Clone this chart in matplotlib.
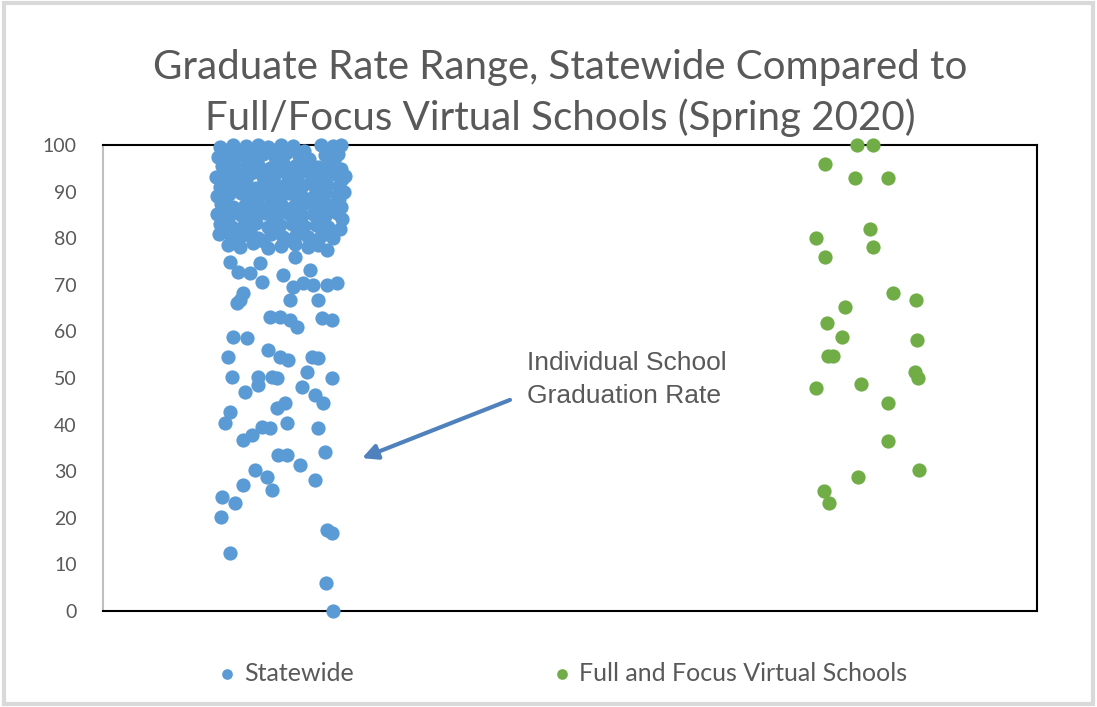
import matplotlib.pyplot as plt
from matplotlib.patches import Rectangle

plt.rcParams['font.family'] = ['Lato', 'DejaVu Sans']

# Statewide schools: x is only a jitter position, y is graduation rate (%)
statewide_x = [
    # dense cluster near the top
    117, 130, 143, 155, 165, 178, 190, 218, 230, 238,
    115, 126, 137, 150, 160, 172, 183, 196, 206, 222, 235,
    119, 130, 142, 155, 167, 180, 192, 203, 215, 226, 238,
    113, 124, 136, 148, 160, 172, 185, 197, 209, 220, 232, 242,
    117, 129, 141, 153, 165, 177, 189, 200, 212, 224, 236,
    114, 126, 138, 150, 162, 174, 186, 198, 210, 222, 234, 241,
    118, 130, 142, 154, 166, 178, 190, 202, 214, 226, 238,
    114, 126, 138, 150, 162, 174, 186, 198, 210, 222, 234,
    117, 129, 141, 153, 165, 177, 189, 201, 213, 225, 237,
    116, 128, 140, 155, 168, 180, 193, 205, 218, 230,
    125, 137, 150, 165, 178, 192, 205, 215,
    # in-between schools of the cluster
    123, 148, 171, 201, 226,
    121, 146, 174, 199, 231,
    130, 154, 179, 204, 228,
    120, 143, 168, 192, 216, 239,
    124, 147, 171, 195, 219,
    121, 145, 170, 194, 218, 236,
    125, 149, 173, 197, 221,
    122, 146, 170, 194, 218, 239,
    123, 147, 172, 196, 224,
    134, 160, 186, 211,
    # spread-out schools
    127, 135, 147, 157, 159, 180, 192, 207, 224, 190, 200, 210, 224, 234,
    187, 215, 140, 134, 137, 167, 177, 187, 194, 219, 229, 130, 144,
    125, 165, 177, 185, 209, 215, 129, 155, 155, 169, 174, 204, 229,
    142, 199, 212, 220, 127, 122, 174, 182, 184, 215, 140, 149, 159, 167,
    175, 184, 222, 197, 152, 164, 212, 140, 169, 119, 132, 118, 224, 229,
    127, 223, 230,
]
statewide_y = [
    99.6, 100, 99.8, 100, 99.5, 100, 99.7, 100, 99.8, 100,
    97.5, 98.2, 97.8, 97.0, 98.0, 97.4, 98.3, 97.6, 97.1, 97.9, 98.1,
    95.5, 96.0, 95.2, 95.8, 95.0, 96.1, 95.4, 95.9, 95.3, 95.7, 94.9,
    93.2, 93.9, 93.5, 94.0, 93.1, 93.7, 93.4, 94.1, 92.9, 93.6, 93.8, 93.3,
    91.0, 91.7, 91.3, 90.8, 91.6, 91.1, 91.9, 91.4, 90.9, 91.5, 91.2,
    89.0, 89.5, 89.8, 88.9, 89.4, 89.1, 89.7, 89.2, 88.8, 89.6, 89.3, 90.0,
    87.4, 86.8, 87.2, 87.6, 86.9, 87.3, 86.7, 87.5, 87.0, 87.1, 86.6,
    85.2, 84.7, 85.0, 84.5, 85.4, 84.9, 85.1, 84.6, 85.3, 84.8, 85.5,
    83.0, 82.5, 82.9, 83.2, 82.4, 82.8, 83.1, 82.6, 82.9, 82.3, 82.0,
    80.9, 80.4, 80.6, 80.1, 80.8, 80.3, 80.7, 80.2, 80.5, 80.0,
    78.6, 78.2, 78.9, 78.0, 78.4, 78.8, 78.1, 78.5,
    98.9, 98.7, 99.0, 98.8, 98.6,
    96.8, 96.6, 96.9, 96.5, 96.7,
    94.7, 94.5, 94.8, 94.4, 94.6,
    92.5, 92.3, 92.6, 92.2, 92.4, 92.7,
    90.3, 90.1, 90.4, 90.0, 90.2,
    88.2, 88.0, 88.3, 87.9, 88.1, 88.4,
    86.0, 85.8, 86.1, 85.7, 85.9,
    83.9, 83.7, 84.0, 83.6, 83.8, 84.1,
    81.8, 81.6, 81.9, 81.5, 81.7,
    79.6, 79.4, 79.7, 79.3,
    74.9, 72.7, 72.5, 74.7, 70.6, 72.1, 76.0, 73.2, 77.5, 69.5, 70.4, 70.0, 70.0, 70.4,
    66.7, 66.7, 68.2, 66.1, 66.7, 63.1, 63.1, 62.4, 60.9, 62.9, 62.4, 58.8, 58.6,
    54.5, 56.0, 54.5, 53.9, 54.5, 54.3, 50.2, 50.2, 48.5, 50.2, 50.0, 51.3, 50.0,
    47.0, 48.1, 46.4, 44.6, 42.7, 40.3, 43.6, 44.6, 40.3, 39.3, 36.7, 37.8, 39.5, 39.3,
    33.5, 33.5, 34.1, 31.3, 30.3, 28.8, 28.1, 27.0, 26.0, 24.4, 23.2, 20.2, 17.4, 16.7,
    12.4, 6.0, 0.0,
]

# Full and focus virtual schools
virtual_x = [754, 770, 722, 752, 785, 713, 767, 770, 722, 790, 813, 742, 724, 739,
             814, 725, 730, 812, 815, 713, 758, 785, 785, 816, 755, 721, 726]
virtual_y = [100, 100, 95.9, 92.9, 92.9, 80.0, 82.0, 78.1, 76.0, 68.2, 66.7, 65.2, 61.8, 58.8,
             58.2, 54.7, 54.7, 51.3, 50.0, 47.9, 48.7, 44.6, 36.5, 30.3, 28.8, 25.8, 23.2]

blue = '#5b9bd5'
green = '#70ad47'
grey_txt = '#595959'

fig = plt.figure(figsize=(10.97, 7.07), dpi=100)
fig.patches.append(Rectangle((0.004, 0.004), 0.992, 0.992, transform=fig.transFigure,
                             fill=False, edgecolor='#d9d9d9', linewidth=3))
ax = fig.add_axes([0.0939, 0.1358, 0.8514, 0.6591])

ax.scatter(statewide_x, statewide_y, s=105, color=blue, linewidths=0, clip_on=False,
           label='Statewide', zorder=3)
ax.scatter(virtual_x, virtual_y, s=105, color=green, linewidths=0, clip_on=False,
           label='Full and Focus Virtual Schools', zorder=3)

ax.set_xlim(0, 934)
ax.set_ylim(0, 100)
ax.set_yticks(range(0, 101, 10))
ax.set_xticks([])
ax.tick_params(axis='y', length=0, labelsize=14, labelcolor=grey_txt, pad=19)
for s in ['top', 'right', 'bottom']:
    ax.spines[s].set_color('black')
    ax.spines[s].set_linewidth(1.5)
ax.spines['left'].set_color('#bfbfbf')
ax.spines['left'].set_linewidth(1.5)

fig.text(0.511, 0.905, 'Graduate Rate Range, Statewide Compared to', ha='center', va='center',
         fontsize=29, color=grey_txt)
fig.text(0.511, 0.833, 'Full/Focus Virtual Schools (Spring 2020)', ha='center', va='center',
         fontsize=29, color=grey_txt)

ax.annotate('', xy=(259, 32.8), xytext=(407, 45.3),
            arrowprops=dict(arrowstyle='-|>,head_length=0.9,head_width=0.45', color='#4f81bd',
                            lw=3, shrinkA=0, shrinkB=0))
ax.text(424, 49.7, 'Individual School\nGraduation Rate', ha='left', va='center',
        fontsize=19, color=grey_txt, linespacing=1.5, family=['Liberation Sans'])

leg = fig.legend(loc='center', bbox_to_anchor=(0.5136, 0.048), ncol=2, frameon=False,
                 fontsize=18, markerscale=0.75, handlelength=0.6, handletextpad=0.4,
                 columnspacing=8.0)
for t in leg.get_texts():
    t.set_color(grey_txt)

fig.savefig('out.png', dpi=100)
